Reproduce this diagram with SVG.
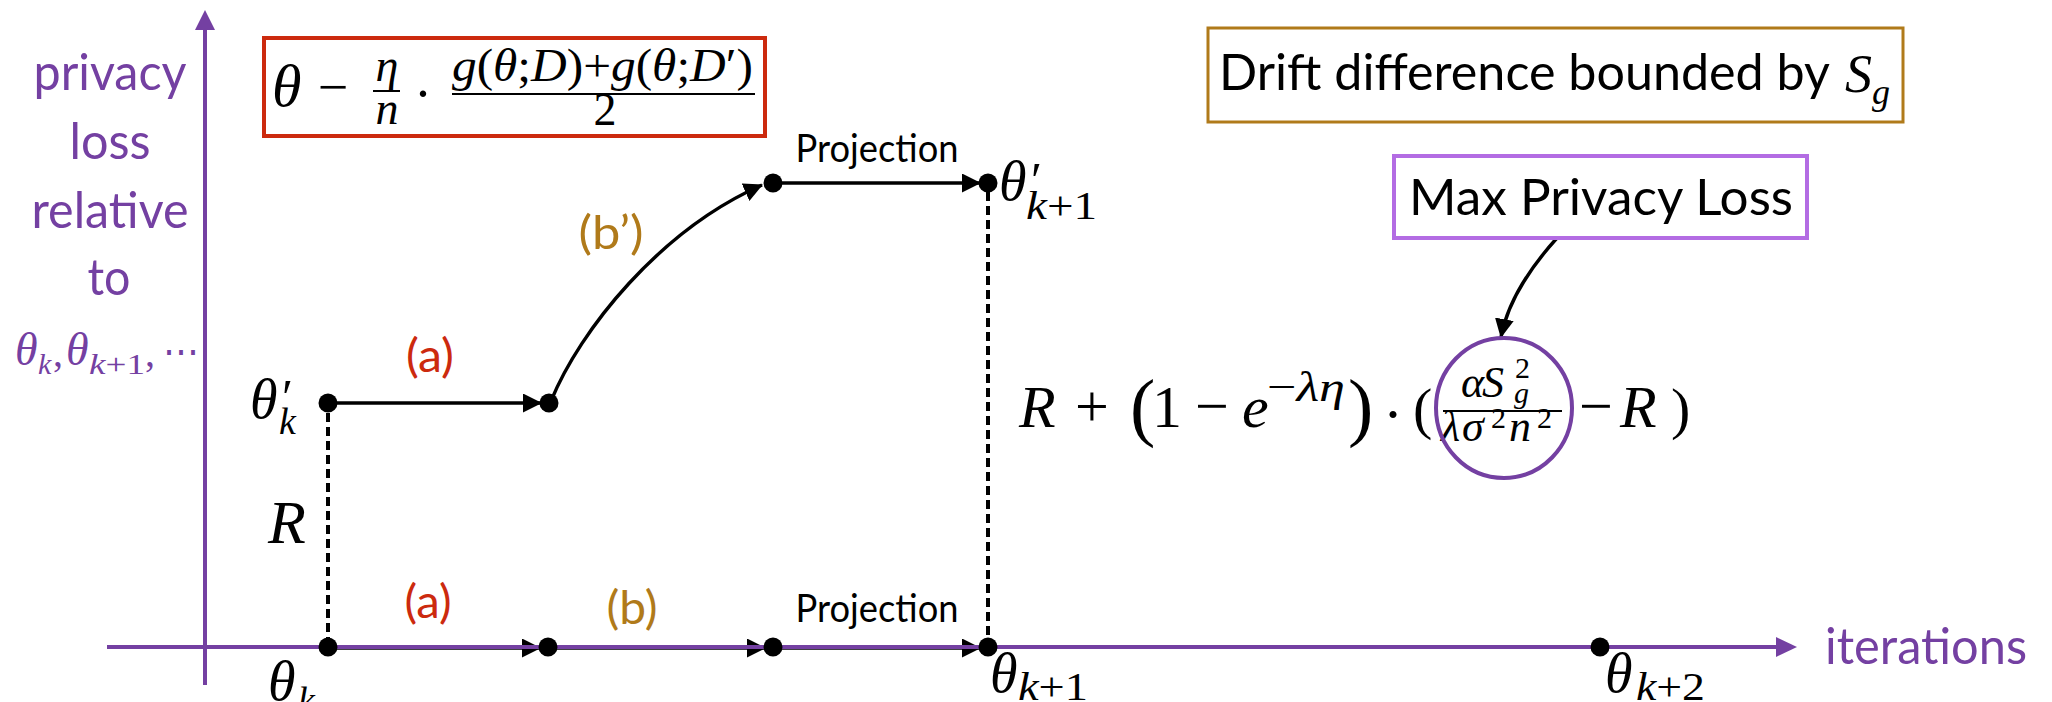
<svg xmlns="http://www.w3.org/2000/svg" width="2052" height="702" viewBox="0 0 2052 702">
<style>
.sans{font-family:Lato,"Noto Sans","Liberation Sans",sans-serif}
.m{font-family:"Liberation Serif","DejaVu Serif",serif}
.i{font-style:italic}
.pur{fill:#7440A2}
.red{fill:#CC2A0E}
.gold{fill:#B07A1A}
.blk{fill:#000}
.axis{stroke:#7440A2;stroke-width:4;fill:none}
.conn{stroke:#000;stroke-width:3.4;fill:none}
.dash{stroke:#000;stroke-width:4;stroke-dasharray:9 5;fill:none}
.dot{fill:#000}
</style>
<defs>
<marker id="ah" markerWidth="19" markerHeight="19" refX="18" refY="9.5" orient="auto" markerUnits="userSpaceOnUse"><path d="M0,0 L19,9.5 L0,19 z" fill="#000"/></marker>
</defs>
<rect width="2052" height="702" fill="#fff"/>

<g id="connectors">
<line class="conn" x1="328" y1="403" x2="541" y2="403" marker-end="url(#ah)"/>
<path class="conn" d="M551,401 C580,330 660,230 762,185" marker-end="url(#ah)"/>
<line class="conn" x1="773" y1="183" x2="980" y2="183" marker-end="url(#ah)"/>
<line class="conn" x1="328" y1="648" x2="540" y2="648" marker-end="url(#ah)"/>
<line class="conn" x1="548" y1="648" x2="765" y2="648" marker-end="url(#ah)"/>
<line class="conn" x1="773" y1="648" x2="980" y2="648" marker-end="url(#ah)"/>
<line class="dash" x1="328" y1="413" x2="328" y2="640"/>
<line class="dash" x1="988" y1="192" x2="988" y2="640"/>
<path class="conn" d="M1557,238 Q1510,290 1501,337" marker-end="url(#ah)"/>
</g>

<g id="axes">
<line class="axis" x1="205" y1="685" x2="205" y2="28"/>
<polygon points="195,30 205,10 215,30" fill="#7440A2"/>
<line class="axis" x1="107" y1="647" x2="1778" y2="647"/>
<polygon points="1776,637 1797,647 1776,657" fill="#7440A2"/>
</g>

<g id="y-label" class="sans pur" font-size="50" text-anchor="middle">
<text x="110" y="90" textLength="153" lengthAdjust="spacingAndGlyphs">privacy</text>
<text x="110" y="159" textLength="81" lengthAdjust="spacingAndGlyphs">loss</text>
<text x="110" y="228" textLength="157" lengthAdjust="spacingAndGlyphs">relative</text>
<text x="109" y="295" textLength="43" lengthAdjust="spacingAndGlyphs">to</text>
</g>
<g id="y-label-math" class="m pur">
<text x="15" y="365" font-size="46" class="i">θ</text>
<text x="38" y="374" font-size="30" class="i">k</text>
<text x="53" y="366" font-size="40">,</text>
<text x="66" y="365" font-size="46" class="i">θ</text>
<text x="89" y="374" font-size="30" textLength="56" lengthAdjust="spacingAndGlyphs"><tspan class="i">k</tspan>+1</text>
<text x="145" y="366" font-size="40">,</text>
<text x="163" y="365" font-size="40" textLength="36" lengthAdjust="spacingAndGlyphs">⋯</text>
</g>

<g id="x-label">
<text class="sans pur" x="1825" y="664" font-size="50" textLength="202" lengthAdjust="spacingAndGlyphs">iterations</text>
</g>

<g id="update-box">
<rect x="264" y="38" width="501" height="98" fill="none" stroke="#CC2A0E" stroke-width="4"/>
<g class="m blk">
<text x="272" y="106" font-size="60" class="i">θ</text>
<text x="333" y="105" font-size="54" text-anchor="middle">−</text>
<text x="387" y="81" font-size="46" text-anchor="middle" class="i">η</text>
<line x1="373" y1="91" x2="400" y2="91" stroke="#000" stroke-width="2"/>
<text x="387" y="124" font-size="46" text-anchor="middle" class="i">n</text>
<text x="423" y="112" font-size="54" text-anchor="middle">·</text>
<text x="452" y="81" font-size="46" textLength="301" lengthAdjust="spacingAndGlyphs"><tspan class="i">g</tspan>(<tspan class="i">θ</tspan>;<tspan class="i">D</tspan>)+<tspan class="i">g</tspan>(<tspan class="i">θ</tspan>;<tspan class="i">D</tspan>′)</text>
<line x1="452" y1="94" x2="755" y2="94" stroke="#000" stroke-width="2"/>
<text x="605" y="125" font-size="46" text-anchor="middle">2</text>
</g>
</g>

<g id="drift-box">
<rect x="1208" y="28" width="695" height="94" fill="none" stroke="#B07A1A" stroke-width="3"/>
<text class="sans blk" x="1219" y="90" font-size="50" textLength="611" lengthAdjust="spacingAndGlyphs">Drift difference bounded by</text>
<text class="m i blk" x="1845" y="92" font-size="54">S</text>
<text class="m i blk" x="1872" y="104" font-size="36">g</text>
</g>

<g id="max-privacy-box">
<rect x="1394" y="156" width="413" height="82" fill="none" stroke="#B36CE3" stroke-width="4"/>
<text class="sans blk" x="1409" y="215" font-size="50" textLength="384" lengthAdjust="spacingAndGlyphs">Max Privacy Loss</text>
</g>

<g id="bound-formula" class="m blk">
<text x="1019" y="427" font-size="60" class="i">R</text>
<text x="1092" y="426" font-size="60" text-anchor="middle">+</text>
<text x="1130" y="432" font-size="76">(</text>
<text x="1152" y="427" font-size="60">1</text>
<text x="1212" y="426" font-size="60" text-anchor="middle">−</text>
<text x="1242" y="427" font-size="60" class="i">e</text>
<text x="1267" y="401" font-size="42" textLength="78" lengthAdjust="spacingAndGlyphs">−<tspan class="i">λη</tspan></text>
<text x="1348" y="432" font-size="76">)</text>
<text x="1393" y="434" font-size="60" text-anchor="middle">·</text>
<text x="1413" y="428" font-size="58">(</text>
<text x="1461" y="397" font-size="44" class="i">α</text>
<text x="1482" y="397" font-size="44" class="i">S</text>
<text x="1515" y="378" font-size="30">2</text>
<text x="1514" y="403" font-size="30" class="i">g</text>
<line x1="1443" y1="411" x2="1562" y2="411" stroke="#000" stroke-width="2"/>
<text x="1441" y="441" font-size="44" class="i">λ</text>
<text x="1462" y="441" font-size="44" class="i">σ</text>
<text x="1491" y="428" font-size="30">2</text>
<text x="1509" y="441" font-size="44" class="i">n</text>
<text x="1537" y="428" font-size="30">2</text>
<text x="1596" y="426" font-size="60" text-anchor="middle">−</text>
<text x="1620" y="427" font-size="60" class="i">R</text>
<text x="1671" y="428" font-size="58">)</text>
<ellipse cx="1504" cy="408" rx="68" ry="70" fill="none" stroke="#7440A2" stroke-width="4"/>
</g>

<g id="node-theta-k-prime">
<circle class="dot" cx="328" cy="403" r="9.5"/>
<text class="m i blk" x="250" y="418" font-size="56">θ</text>
<text class="m blk" x="282" y="414" font-size="50">′</text>
<text class="m i blk" x="279" y="434" font-size="38">k</text>
</g>
<g id="node-a-prime">
<circle class="dot" cx="549" cy="403" r="9.5"/>
</g>
<g id="node-b-prime">
<circle class="dot" cx="773" cy="183" r="9.5"/>
</g>
<g id="node-theta-k1-prime">
<circle class="dot" cx="988" cy="183" r="9.5"/>
<text class="m i blk" x="999" y="200" font-size="56">θ</text>
<text class="m blk" x="1031" y="197" font-size="50">′</text>
<text class="m blk" x="1026" y="219" font-size="40" textLength="71" lengthAdjust="spacingAndGlyphs"><tspan class="i">k</tspan>+1</text>
</g>
<g id="node-theta-k">
<circle class="dot" cx="328" cy="647" r="9.5"/>
<text class="m i blk" x="268" y="700" font-size="56">θ</text>
<text class="m i blk" x="298" y="713" font-size="38">k</text>
</g>
<g id="node-a">
<circle class="dot" cx="548" cy="647" r="9.5"/>
</g>
<g id="node-b">
<circle class="dot" cx="773" cy="647" r="9.5"/>
</g>
<g id="node-theta-k1">
<circle class="dot" cx="988" cy="647" r="9.5"/>
<text class="m i blk" x="990" y="692" font-size="56">θ</text>
<text class="m blk" x="1018" y="700" font-size="40" textLength="70" lengthAdjust="spacingAndGlyphs"><tspan class="i">k</tspan>+1</text>
</g>
<g id="node-theta-k2">
<circle class="dot" cx="1600" cy="647" r="9.5"/>
<text class="m i blk" x="1605" y="692" font-size="56">θ</text>
<text class="m blk" x="1636" y="700" font-size="40" textLength="69" lengthAdjust="spacingAndGlyphs"><tspan class="i">k</tspan>+2</text>
</g>

<g id="edge-labels" class="sans" text-anchor="middle">
<text class="red" x="430" y="372" font-size="46" textLength="48" lengthAdjust="spacingAndGlyphs">(a)</text>
<text class="gold" x="611" y="249" font-size="46" textLength="65" lengthAdjust="spacingAndGlyphs">(b’)</text>
<text class="red" x="428" y="618" font-size="46" textLength="47" lengthAdjust="spacingAndGlyphs">(a)</text>
<text class="gold" x="632" y="624" font-size="46" textLength="51" lengthAdjust="spacingAndGlyphs">(b)</text>
<text class="blk" x="877" y="162" font-size="39" textLength="163" lengthAdjust="spacingAndGlyphs">Projection</text>
<text class="blk" x="877" y="622" font-size="39" textLength="163" lengthAdjust="spacingAndGlyphs">Projection</text>
<text class="m i blk" x="287" y="543" font-size="62">R</text>
</g>
</svg>
